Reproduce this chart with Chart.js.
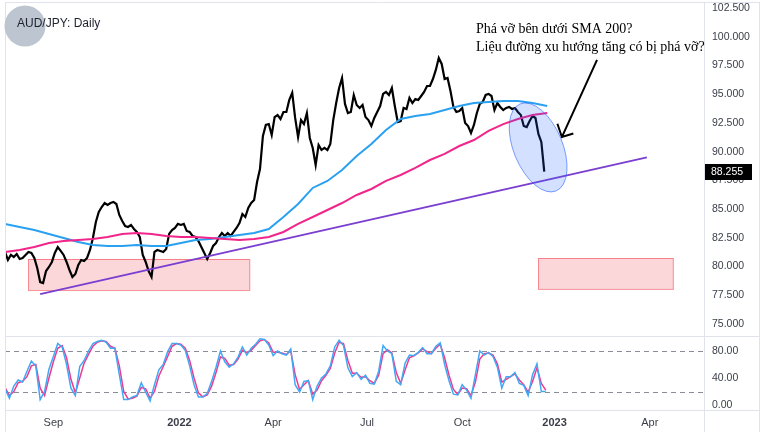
<!DOCTYPE html>
<html>
<head>
<meta charset="utf-8">
<script src="https://cdn.jsdelivr.net/npm/chart.js@4.4.1/dist/chart.umd.min.js"></script>
<style>
  html, body { margin: 0; padding: 0; background: #fff; }
  #wrap { position: relative; width: 768px; height: 432px; overflow: hidden; }
  #price { position: absolute; left: 0; top: 0; }
  #osc { position: absolute; left: 0; top: 336px; }
</style>
</head>
<body>
<div id="wrap">
  <canvas id="price" width="768" height="336"></canvas>
  <canvas id="osc" width="768" height="96"></canvas>
</div>
<script>
// x values are trading-day indexes counted from the first bar on screen
const PRICE_STEP = 2;
const PRICE = [
  81.27, 80.57, 81.01, 80.83, 81.09, 80.66, 80.75, 81.01, 81.27, 81.18,
  80.75, 79.87, 78.65, 78.57, 79.61, 79.96, 80.40, 81.18, 81.70, 81.36,
  81.01, 80.40, 79.70, 79.09, 79.35, 80.13, 80.57, 80.48, 80.75, 81.44,
  82.49, 83.88, 84.75, 85.18, 85.53, 85.36, 85.53, 85.62, 85.44, 84.49,
  83.97, 83.53, 83.44, 83.62, 83.27, 83.01, 82.57, 81.01, 80.40, 79.61,
  79.09, 81.27, 81.44, 81.36, 81.27, 81.53, 82.84, 83.18, 83.36, 83.71,
  83.62, 83.71, 83.10, 83.01, 82.66, 82.57, 82.22, 81.70, 81.18, 80.66,
  81.18, 81.79, 82.05, 82.57, 82.92, 82.66, 82.92, 82.66, 83.01, 83.36,
  83.79, 84.57, 84.31, 85.10, 85.53, 85.79, 87.36, 88.49, 91.36, 92.32,
  92.40, 91.45, 93.01, 93.19, 92.84, 93.45, 93.45, 94.50, 95.11, 92.93,
  91.27, 92.75, 92.40, 93.36, 91.19, 90.32, 88.84, 90.58, 90.14, 90.32,
  90.14, 90.67, 92.75, 94.23, 95.54, 96.41, 94.15, 93.36, 93.45, 94.93,
  94.06, 93.80, 94.06, 93.02, 92.75, 92.23, 92.93, 93.45, 93.97, 95.02,
  95.19, 94.93, 95.54, 93.97, 92.58, 92.66, 93.80, 93.71, 94.67, 94.23,
  94.58, 94.50, 94.84, 95.19, 95.71, 95.71, 96.32, 97.11, 98.15, 97.63,
  96.32, 96.41, 95.28, 93.89, 93.45, 93.54, 93.80, 92.49, 92.23, 91.62,
  92.32, 93.36, 94.15, 94.32, 94.93, 95.02, 94.84, 93.62, 94.23, 93.89,
  93.62, 93.80, 93.89, 93.71, 93.80, 93.45, 93.19, 92.23, 92.14, 92.66,
  93.10, 92.93, 91.54, 90.84, 88.255
];

const MA_STEP = 10;
const SMA100 = [
  83.71, 83.44, 83.18, 82.84, 82.49, 82.14, 81.88, 81.79, 81.79, 81.88,
  81.79, 81.79, 82.05, 82.31, 82.40, 82.57, 82.75, 82.92, 83.27, 84.31,
  85.44, 86.84, 87.45, 88.40, 89.62, 90.67, 91.88, 92.84, 93.10, 93.28,
  93.62, 93.97, 94.23, 94.32, 94.41, 94.41, 94.23, 93.97
];
const SMA200 = [
  81.27, 81.44, 81.70, 82.05, 82.22, 82.31, 82.40, 82.57, 82.84, 82.92,
  82.84, 82.66, 82.57, 82.57, 82.49, 82.40, 82.31, 82.40, 82.57, 83.01,
  83.71, 84.31, 84.92, 85.53, 86.23, 86.75, 87.45, 87.97, 88.58, 89.27,
  89.80, 90.49, 91.01, 91.80, 92.40, 92.84, 93.19, 93.36
];

const STOCH_STEP = 3;
const STOCH_K = [
  24, 10, 28, 37, 34, 50, 65, 58, 8, 20,
  53, 72, 91, 86, 60, 25, 14, 57, 66, 80,
  91, 94, 96, 93, 84, 84, 45, 8, 8, 12,
  14, 33, 19, 6, 30, 52, 60, 79, 91, 91,
  89, 81, 58, 30, 12, 12, 17, 35, 56, 80,
  64, 56, 61, 71, 86, 74, 84, 90, 98, 97,
  89, 73, 80, 76, 74, 83, 30, 19, 35, 36,
  8, 28, 40, 46, 58, 86, 96, 88, 55, 42,
  48, 38, 44, 32, 31, 50, 88, 80, 76, 35,
  30, 62, 74, 73, 78, 85, 76, 76, 87, 92,
  60, 36, 16, 15, 30, 22, 10, 45, 80, 74,
  78, 72, 56, 25, 42, 42, 48, 32, 29, 14,
  45, 61, 20, 20
];
const STOCH_D = [
  26, 14, 20, 33, 35, 42, 58, 60, 25, 14,
  40, 64, 84, 88, 70, 38, 18, 40, 62, 75,
  87, 93, 95, 94, 87, 84, 58, 20, 9, 10,
  13, 26, 24, 10, 20, 43, 57, 72, 87, 91,
  90, 84, 66, 40, 18, 12, 15, 28, 48, 71,
  69, 59, 60, 68, 81, 78, 81, 88, 95, 97,
  92, 78, 78, 77, 75, 80, 45, 23, 30, 36,
  16, 22, 36, 44, 54, 77, 93, 91, 66, 47,
  47, 41, 42, 36, 32, 44, 76, 82, 77, 48,
  32, 52, 70, 73, 77, 83, 79, 76, 84, 90,
  70, 44, 23, 16, 25, 24, 14, 34, 68, 76,
  77, 74, 61, 34, 38, 42, 46, 37, 30, 19,
  35, 55, 32, 22
];

const PRICE_TICKS = [75, 77.5, 80, 82.5, 85, 87.5, 90, 92.5, 95, 97.5, 100, 102.5];
const OSC_TICKS = [0, 40, 80];
const OSC_LEVELS = [80, 20];
const TIME_TICKS = [33, 119, 183, 247, 312, 375, 440];
const TIME_LABELS = ['Sep', '2022', 'Apr', 'Jul', 'Oct', '2023', 'Apr'];
const X_MAX = 477;

// drawings: [bar, price]
const TREND = [[24, 77.6], [438, 89.5]];
const ZONES = [[16, 167, 77.96, 80.66], [364, 456, 78.05, 80.74]];
const ELLIPSE = [[351.5, 94.15], [376.1, 86.58]];
const ARROW = [[404, 97.98], [380, 91.27]];
const NOTE = ['Phá vỡ bên dưới SMA 200?', 'Liệu đường xu hướng tăng có bị phá vỡ?'];
const TITLE = 'AUD/JPY: Daily';

const SANS = '"Liberation Sans", Arial, sans-serif';
const AXIS_COLOR = '#3b3e48';
const FRAME = '#e0e3eb';

const toPoints = (arr, step) => arr.map((v, i) => ({ x: i * step, y: v }));

function line(data, color, width) {
  return { data, borderColor: color, borderWidth: width, pointRadius: 0, tension: 0, fill: false };
}

function fixedAxis(width) {
  return s => { s.width = width; s.paddingTop = 0; s.paddingBottom = 0; };
}

function frameLines(ctx, h, top) {
  ctx.save();
  ctx.strokeStyle = FRAME;
  ctx.lineWidth = 1;
  ctx.beginPath();
  ctx.moveTo(5.5, top); ctx.lineTo(5.5, h);
  ctx.moveTo(704.5, top); ctx.lineTo(704.5, h);
  ctx.moveTo(759.5, top); ctx.lineTo(759.5, h);
  ctx.stroke();
  ctx.restore();
}

const priceDecor = {
  id: 'priceDecor',
  beforeDatasetsDraw(chart) {
    const { ctx, scales: { x, y } } = chart;
    ctx.save();
    ZONES.forEach(([b0, b1, lo, hi]) => {
      const l = x.getPixelForValue(b0), r = x.getPixelForValue(b1);
      const t = y.getPixelForValue(hi), b = y.getPixelForValue(lo);
      ctx.fillStyle = 'rgba(242, 54, 69, 0.2)';
      ctx.fillRect(l, t, r - l, b - t);
      ctx.strokeStyle = 'rgba(242, 54, 69, 0.55)';
      ctx.lineWidth = 1;
      ctx.strokeRect(Math.round(l) + 0.5, Math.round(t) + 0.5, r - l, b - t);
    });
    ctx.restore();
  },
  afterDatasetsDraw(chart) {
    const { ctx, scales: { x, y } } = chart;
    const px = p => [x.getPixelForValue(p[0]), y.getPixelForValue(p[1])];
    ctx.save();
    // trend line
    const [a, b] = TREND.map(px);
    ctx.strokeStyle = '#7b3fd0';
    ctx.lineWidth = 2;
    ctx.beginPath(); ctx.moveTo(a[0], a[1]); ctx.lineTo(b[0], b[1]); ctx.stroke();

    // ellipse around the break
    const [e1, e2] = ELLIPSE.map(px);
    const cx = (e1[0] + e2[0]) / 2, cy = (e1[1] + e2[1]) / 2;
    const ra = Math.hypot(e2[0] - e1[0], e2[1] - e1[1]) / 2;
    const ang = Math.atan2(e2[1] - e1[1], e2[0] - e1[0]);
    ctx.beginPath();
    ctx.ellipse(cx, cy, ra, ra * 0.52, ang, 0, Math.PI * 2);
    ctx.fillStyle = 'rgba(41, 98, 255, 0.2)';
    ctx.fill();
    ctx.strokeStyle = 'rgba(41, 98, 255, 0.6)';
    ctx.lineWidth = 1;
    ctx.stroke();

    // arrow
    const [t0, t1] = ARROW.map(px);
    const dir = Math.atan2(t0[1] - t1[1], t0[0] - t1[0]);
    ctx.strokeStyle = '#000';
    ctx.lineWidth = 2;
    ctx.beginPath();
    ctx.moveTo(t0[0], t0[1]); ctx.lineTo(t1[0], t1[1]);
    ctx.moveTo(t1[0] + 14 * Math.cos(dir - 0.75), t1[1] + 14 * Math.sin(dir - 0.75));
    ctx.lineTo(t1[0], t1[1]);
    ctx.lineTo(t1[0] + 12 * Math.cos(dir + 0.85), t1[1] + 12 * Math.sin(dir + 0.85));
    ctx.stroke();
    ctx.restore();
  },
  afterDraw(chart) {
    const { ctx, scales: { y } } = chart;
    ctx.save();
    frameLines(ctx, 336, 2);
    ctx.strokeStyle = FRAME;
    ctx.beginPath(); ctx.moveTo(5, 2.5); ctx.lineTo(760, 2.5); ctx.stroke();

    // logo + title
    ctx.fillStyle = '#bcc5d0';
    ctx.beginPath(); ctx.arc(25, 26, 20.5, 0, Math.PI * 2); ctx.fill();
    ctx.fillStyle = '#1e222d';
    ctx.font = '12px ' + SANS;
    ctx.textBaseline = 'middle';
    ctx.fillText(TITLE, 17, 24);

    // note
    ctx.font = '14px "Liberation Serif", "Times New Roman", serif';
    ctx.textBaseline = 'alphabetic';
    ctx.fillStyle = '#000';
    ctx.fillText(NOTE[0], 476, 33);
    ctx.fillText(NOTE[1], 476, 51);

    // last price badge
    const last = PRICE[PRICE.length - 1];
    const yp = Math.round(y.getPixelForValue(last));
    ctx.fillStyle = '#000';
    ctx.fillRect(705, yp - 8, 47, 16);
    ctx.fillStyle = '#fff';
    ctx.font = '10.5px ' + SANS;
    ctx.textBaseline = 'middle';
    ctx.fillText(last.toFixed(3), 711, yp + 0.5);
    ctx.restore();
  }
};

const oscDecor = {
  id: 'oscDecor',
  beforeDatasetsDraw(chart) {
    const { ctx, chartArea, scales: { y } } = chart;
    ctx.save();
    ctx.strokeStyle = '#8a8d96';
    ctx.lineWidth = 1;
    ctx.setLineDash([5, 4]);
    OSC_LEVELS.forEach(v => {
      const yy = Math.round(y.getPixelForValue(v)) + 0.5;
      ctx.beginPath(); ctx.moveTo(chartArea.left, yy); ctx.lineTo(chartArea.right, yy); ctx.stroke();
    });
    ctx.restore();
  },
  afterDraw(chart) {
    const { ctx, chartArea } = chart;
    ctx.save();
    frameLines(ctx, 96, 0);
    ctx.strokeStyle = FRAME;
    ctx.lineWidth = 1;
    ctx.beginPath();
    ctx.moveTo(5, 0.5); ctx.lineTo(760, 0.5);
    ctx.moveTo(5, chartArea.bottom + 0.5); ctx.lineTo(760, chartArea.bottom + 0.5);
    ctx.stroke();
    ctx.restore();
  }
};

const commonX = {
  type: 'linear',
  min: 0,
  max: X_MAX,
  grid: { display: false },
  border: { display: false }
};

new Chart(document.getElementById('price').getContext('2d'), {
  type: 'line',
  data: {
    datasets: [
      line(toPoints(SMA200, MA_STEP), '#f2258a', 2),
      line(toPoints(SMA100, MA_STEP), '#2aa0f0', 2),
      line(toPoints(PRICE, PRICE_STEP), '#000000', 2.2)
    ]
  },
  options: {
    responsive: false,
    animation: false,
    layout: { autoPadding: false, padding: { left: 5, top: 0, right: 0, bottom: 0 } },
    plugins: { legend: { display: false }, tooltip: { enabled: false } },
    scales: {
      x: { ...commonX, display: false },
      y: {
        position: 'right',
        min: 73.956,
        max: 103.196,
        grid: { display: false, drawTicks: false },
        border: { display: false },
        afterBuildTicks: s => { s.ticks = PRICE_TICKS.map(v => ({ value: v })); },
        afterFit: fixedAxis(64),
        ticks: {
          padding: 8,
          color: AXIS_COLOR,
          font: { family: SANS, size: 10.5 },
          callback: v => Number(v).toFixed(3)
        }
      }
    }
  },
  plugins: [priceDecor]
});

new Chart(document.getElementById('osc').getContext('2d'), {
  type: 'line',
  data: {
    datasets: [
      line(toPoints(STOCH_K, STOCH_STEP), '#42a8f5', 1.5),
      line(toPoints(STOCH_D, STOCH_STEP), '#ee3b8f', 1.5)
    ]
  },
  options: {
    responsive: false,
    animation: false,
    layout: { autoPadding: false, padding: { left: 5, top: 0, right: 0, bottom: 0 } },
    plugins: { legend: { display: false }, tooltip: { enabled: false } },
    scales: {
      x: {
        ...commonX,
        afterBuildTicks: s => { s.ticks = TIME_TICKS.map(v => ({ value: v })); },
        afterFit: s => { s.height = 22; s.paddingLeft = 0; s.paddingRight = 0; },
        grid: { display: false, drawTicks: false },
        ticks: {
          padding: 6,
          autoSkip: false,
          maxRotation: 0,
          color: AXIS_COLOR,
          font: c => ({ family: SANS, size: 11, weight: /^\d+$/.test(TIME_LABELS[c.index]) ? 'bold' : 'normal' }),
          callback: (v, i) => TIME_LABELS[i]
        }
      },
      y: {
        position: 'right',
        min: -7.4,
        max: 102.2,
        grid: { display: false, drawTicks: false },
        border: { display: false },
        afterBuildTicks: s => { s.ticks = OSC_TICKS.map(v => ({ value: v })); },
        afterFit: fixedAxis(64),
        ticks: {
          padding: 8,
          color: AXIS_COLOR,
          font: { family: SANS, size: 10.5 },
          callback: v => Number(v).toFixed(2)
        }
      }
    }
  },
  plugins: [oscDecor]
});
</script>
</body>
</html>
